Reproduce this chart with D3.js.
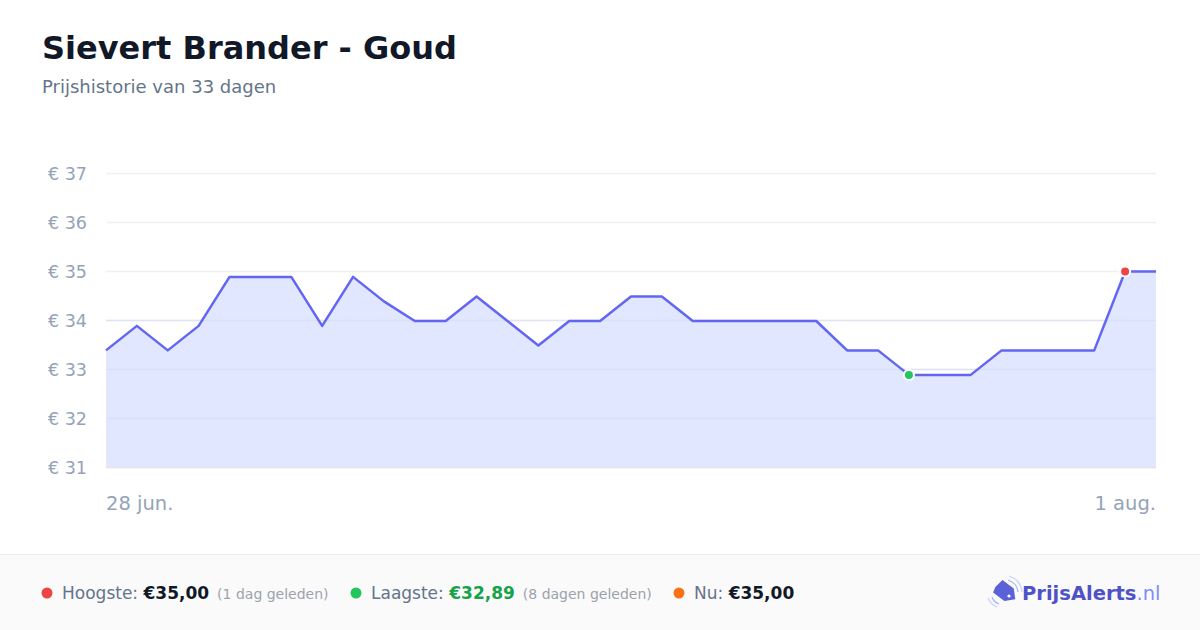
<!DOCTYPE html>
<html><head><meta charset="utf-8">
<script src="https://cdn.jsdelivr.net/npm/d3@7"></script>
<style>
html,body{margin:0;padding:0;background:#fff;}
svg{display:block;font-family:"DejaVu Sans",sans-serif;}
</style></head>
<body>
<svg id="c" width="1200" height="630"></svg>
<script>
const title = "Sievert Brander - Goud";
const subtitle = "Prijshistorie van 33 dagen";
const prices = [33.39,33.89,33.39,33.89,34.89,34.89,34.89,33.89,34.89,34.39,33.99,33.99,34.49,33.99,33.49,33.99,33.99,34.49,34.49,33.99,33.99,33.99,33.99,33.99,33.39,33.39,32.89,32.89,32.89,33.39,33.39,33.39,33.39,35.00,35.00];
const yTicks = [31,32,33,34,35,36,37];
const xTickLabels = ["28 jun.", "1 aug."];
const xTickIndex = [0, 34];
const maxIndex = 33, minIndex = 26;
const legendItems = [
  {dot:"#ef4444", label:"Hoogste: ", value:"€35,00", valueColor:"#111827", note:"(1 dag geleden)"},
  {dot:"#22c55e", label:"Laagste: ", value:"€32,89", valueColor:"#16a34a", note:"(8 dagen geleden)"},
  {dot:"#f97316", label:"Nu: ", value:"€35,00", valueColor:"#111827", note:""}
];

const svg = d3.select("#c");
svg.append("text").attr("x",42).attr("y",59).attr("font-size",32).attr("font-weight","bold").attr("fill","#111827").text(title);
svg.append("text").attr("x",42).attr("y",93).attr("font-size",18).attr("fill","#64748b").text(subtitle);

const x = d3.scaleLinear().domain([0, prices.length-1]).range([106,1156]);
const y = d3.scaleLinear().domain([31,37]).range([467.5,173.5]);

// grid
svg.append("g").selectAll("line").data(yTicks).join("line")
  .attr("x1",106).attr("x2",1156).attr("y1",d=>y(d)).attr("y2",d=>y(d))
  .attr("stroke","#f0f0f3").attr("stroke-width",1.5);

// area
svg.append("path").datum(prices)
  .attr("d", d3.area().x((d,i)=>x(i)).y0(y(31)).y1(d=>y(d)))
  .attr("fill","#e0e7ff");

// grid over area faintly
svg.append("g").selectAll("line").data(yTicks.filter(d=>d<35 && d>31)).join("line")
  .attr("x1",106).attr("x2",1156).attr("y1",d=>y(d)).attr("y2",d=>y(d))
  .attr("stroke","#d6dcf8").attr("stroke-opacity",0.6).attr("stroke-width",1.5);

// baseline
svg.append("line").attr("x1",106).attr("x2",1156).attr("y1",y(31)).attr("y2",y(31))
  .attr("stroke","#e2e3ec").attr("stroke-width",1.5);

// line
svg.append("path").datum(prices)
  .attr("d", d3.line().x((d,i)=>x(i)).y(d=>y(d)))
  .attr("fill","none").attr("stroke","#6366f1").attr("stroke-width",2.5).attr("stroke-linejoin","round");

// y labels
svg.append("g").selectAll("text").data(yTicks).join("text")
  .attr("x",87).attr("y",d=>y(d)+6).attr("text-anchor","end")
  .attr("font-size",17.5).attr("fill","#94a3b8").text(d=>"€ "+d);

// x labels
svg.append("g").selectAll("text").data(xTickLabels).join("text")
  .attr("x",(d,i)=>x(xTickIndex[i])).attr("y",510)
  .attr("text-anchor",(d,i)=>i===0?"start":"end")
  .attr("font-size",19.5).attr("fill","#94a3b8").text(d=>d);

// markers
[[minIndex,"#22c55e"],[maxIndex,"#ef4444"]].forEach(([i,c])=>{
  svg.append("circle").attr("cx",x(i)).attr("cy",y(prices[i])).attr("r",5)
    .attr("fill",c).attr("stroke","#fff").attr("stroke-width",2);
});

// footer
svg.append("rect").attr("x",0).attr("y",554).attr("width",1200).attr("height",76).attr("fill","#fafafa");
svg.append("line").attr("x1",0).attr("x2",1200).attr("y1",554.5).attr("y2",554.5).attr("stroke","#eeeeee");

const dotX = [47, 356, 679];
legendItems.forEach((it,k)=>{
  const g = svg.append("g");
  g.append("circle").attr("cx",dotX[k]).attr("cy",593).attr("r",5.5).attr("fill",it.dot);
  const t = g.append("text").attr("x",dotX[k]+15).attr("y",599).attr("font-size",17);
  t.append("tspan").attr("fill","#64748b").text(it.label);
  t.append("tspan").attr("fill",it.valueColor).attr("font-weight","bold").text(it.value);
  if(it.note) t.append("tspan").attr("dx",8).attr("fill","#9ca3af").attr("font-size",14).text(it.note);
});

// logo
const lg = svg.append("g");
lg.append("path").attr("d","M996,586 L1004,580 L1014,590 L1014,601 L1003,601 L993,591 Z")
  .attr("fill","#5b61d6").attr("transform","rotate(-8,1003,591)");
lg.append("circle").attr("cx",1009).attr("cy",596).attr("r",1.6).attr("fill","#fff");
lg.append("path").attr("d","M1008,580 A14,14 0 0 1 1018,592").attr("fill","none").attr("stroke","#a5b4fc").attr("stroke-width",1.3);
lg.append("path").attr("d","M1009,576 A18,18 0 0 1 1022,592").attr("fill","none").attr("stroke","#c7d2fe").attr("stroke-width",1.3);
lg.append("path").attr("d","M992,597 A12,12 0 0 0 999,604").attr("fill","none").attr("stroke","#a5b4fc").attr("stroke-width",1.3);
lg.append("path").attr("d","M988,598 A16,16 0 0 0 997,607").attr("fill","none").attr("stroke","#c7d2fe").attr("stroke-width",1.3);
const lt = lg.append("text").attr("x",1022).attr("y",600).attr("font-size",19.5).attr("font-weight","bold");
lt.append("tspan").attr("fill","#4f52c6").text("PrijsAlerts");
lt.append("tspan").attr("fill","#818cf8").attr("font-weight","normal").text(".nl");
</script>
</body></html>
